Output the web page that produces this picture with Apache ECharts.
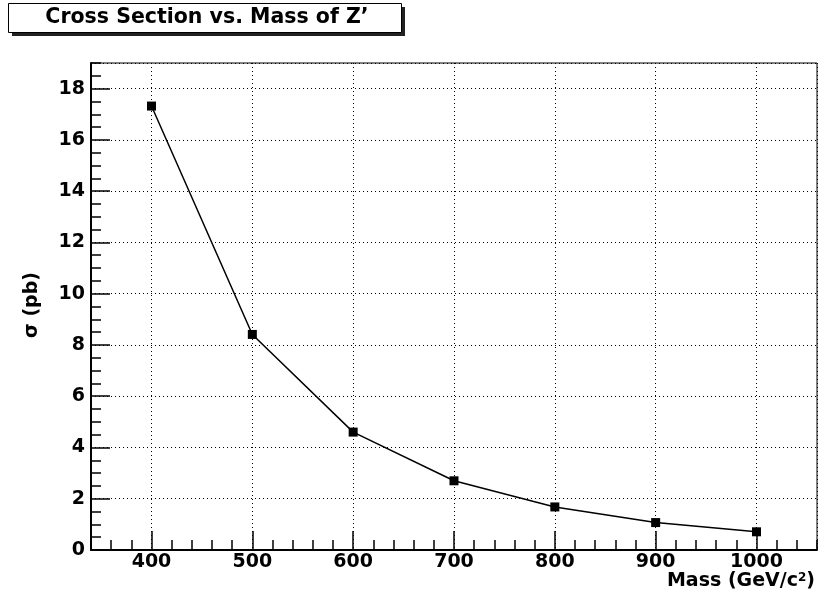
<!DOCTYPE html>
<html lang="en">
<head>
  <meta charset="UTF-8">
  <title>Cross Section vs. Mass of Z'</title>
  <style>
    html, body { margin: 0; padding: 0; background: #fff; }
    #chart { width: 822px; height: 609px; }
  </style>
</head>
<body>
<div id="chart"></div>
<script src="https://cdn.jsdelivr.net/npm/echarts@6/dist/echarts.min.js"></script>
<script>
  // values
  var masses = [400, 500, 600, 700, 800, 900, 1000]
  var sigmas = [17.32, 8.41, 4.6, 2.7, 1.68, 1.07, 0.71]

  var xMin = 340, xMax = 1060
  var yMin = 0, yMax = 19

  var font = '"DejaVu Sans", "Liberation Sans", Arial, sans-serif'

  var chart = echarts.init(document.getElementById('chart'), null, { renderer: 'canvas' })

  var points = masses.map(function (m, i) { return [m, sigmas[i]] })

  var option = {
    animation: false,
    backgroundColor: '#fff',
    grid: {
      left: 91, right: 5, top: 63, bottom: 59,
      show: true, borderColor: '#000', borderWidth: 1
    },
    xAxis: [
      {
        type: 'value', min: xMin, max: xMax,
        minInterval: 100, maxInterval: 100,
        axisLine: { lineStyle: { color: '#000', width: 2 } },
        axisTick: { inside: true, length: 19, lineStyle: { color: '#000', width: 1.5 } },
        axisLabel: {
          color: '#000', fontFamily: font, fontWeight: 'bold', fontSize: 19,
          margin: 3, showMinLabel: false, showMaxLabel: false,
          formatter: function (v) { return String(v) }
        },
        splitLine: { show: true, lineStyle: { color: '#000', width: 1, type: [1, 3] } }
      },
      {
        // minor ticks, every 20
        type: 'value', min: xMin, max: xMax, interval: 20, position: 'bottom',
        axisLine: { show: false },
        axisTick: { inside: true, length: 10, lineStyle: { color: '#000', width: 1.5 } },
        axisLabel: { show: false },
        splitLine: { show: false }
      }
    ],
    yAxis: [
      {
        type: 'value', min: yMin, max: yMax, interval: 2,
        axisLine: { show: true, lineStyle: { color: '#000', width: 2 } },
        axisTick: { show: true, inside: true, length: 19, lineStyle: { color: '#000', width: 1.5 } },
        axisLabel: {
          color: '#000', fontFamily: font, fontWeight: 'bold', fontSize: 19,
          margin: 6, showMaxLabel: false
        },
        splitLine: { show: true, lineStyle: { color: '#000', width: 1, type: [1, 3] } }
      },
      {
        // minor ticks, every 0.5
        type: 'value', min: yMin, max: yMax, interval: 0.5, position: 'left',
        axisLine: { show: false },
        axisTick: { show: true, inside: true, length: 10, lineStyle: { color: '#000', width: 1.5 } },
        axisLabel: { show: false },
        splitLine: { show: false }
      }
    ],
    graphic: [
      { type: 'rect', shape: { x: 12, y: 7, width: 393, height: 29 }, style: { fill: '#222' }, z: 10 },
      { type: 'rect', shape: { x: 8.5, y: 3.5, width: 393, height: 29 }, style: { fill: '#fff', stroke: '#000', lineWidth: 1 }, z: 11 },
      {
        type: 'text', x: 207, y: 18, z: 12,
        style: {
          text: 'Cross Section vs. Mass of Z\u2019', fill: '#000',
          font: 'bold 20.5px ' + font, align: 'center', verticalAlign: 'middle'
        }
      },
      {
        type: 'text', x: 32, y: 305, rotation: Math.PI / 2, z: 12,
        style: {
          text: '\u03c3 (pb)', fill: '#000',
          font: 'bold 19px ' + font, align: 'center', verticalAlign: 'middle'
        }
      },
      {
        type: 'text', x: 815, y: 581, z: 12,
        style: {
          text: '{a|Mass (GeV/c}{s|2}{a|)}', align: 'right', verticalAlign: 'middle',
          rich: {
            a: { fill: '#000', fontFamily: font, fontWeight: 'bold', fontSize: 19, verticalAlign: 'bottom' },
            s: { fill: '#000', fontFamily: font, fontWeight: 'bold', fontSize: 12, verticalAlign: 'top' }
          }
        }
      }
    ],
    series: [
      {
        type: 'line', data: points,
        symbol: 'rect', symbolSize: 9,
        lineStyle: { color: '#000', width: 1.5 },
        itemStyle: { color: '#000' },
        z: 5
      }
    ]
  }

  chart.setOption(option)
  window.addEventListener('resize', chart.resize)
</script>
</body>
</html>
